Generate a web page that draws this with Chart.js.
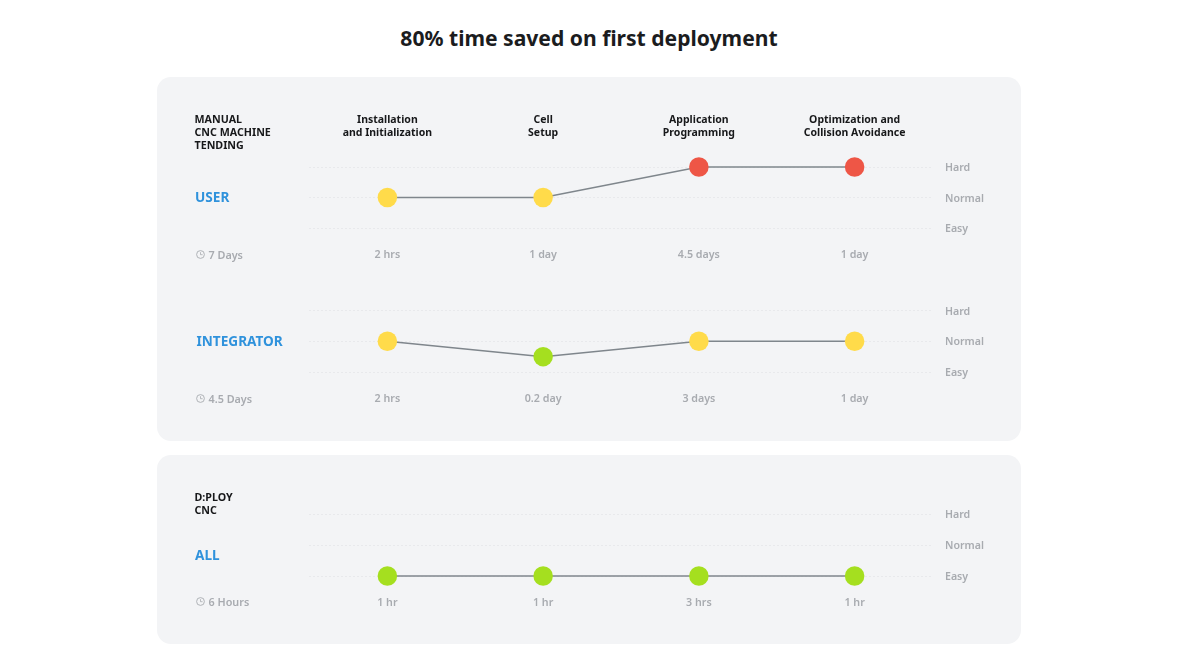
<!DOCTYPE html>
<html>
<head>
<meta charset="utf-8">
<script src="https://cdn.jsdelivr.net/npm/chart.js@4/dist/chart.umd.min.js"></script>
<style>
  html, body { margin: 0; padding: 0; background: #fff; }
  body { position: relative; width: 1178px; height: 663px; overflow: hidden; font-family: "Noto Sans", sans-serif; }
  h1 { position: absolute; left: 0; width: 1178px; top: 21.5px; margin: 0; text-align: center; font-size: 21.1px; line-height: 32px; font-weight: 700; color: #1b1c1e; }
  .panel { position: absolute; left: 157px; width: 864px; background: #f3f4f6; border-radius: 14px; }
  canvas { position: absolute; left: 157px; }
  .head { position: absolute; left: 194.5px; font-size: 10.7px; line-height: 13.3px; font-weight: 700; color: #17181a; white-space: pre; }
  .role { position: absolute; font-size: 13.6px; line-height: 18px; font-weight: 700; color: #2f92dc; }
  .total { position: absolute; left: 196px; font-size: 10.8px; line-height: 14px; font-weight: 600; color: #a8abb0; display: flex; align-items: center; gap: 3.5px; }
</style>
</head>
<body>
<h1 id="title"></h1>
<div class="panel" style="top:77px;height:364px"></div>
<div class="panel" style="top:455px;height:189px"></div>
<canvas id="userChart"></canvas>
<canvas id="integratorChart"></canvas>
<canvas id="allChart"></canvas>
<script>
const chartTitle = '80% time saved on first deployment';
const stepTitles = [
  ['Installation', 'and Initialization'],
  ['Cell', 'Setup'],
  ['Application', 'Programming'],
  ['Optimization and', 'Collision Avoidance']
];
const levels = ['Easy', 'Normal', 'Hard'];

const userLevels = [1, 1, 2, 2];
const userTimes = ['2 hrs', '1 day', '4.5 days', '1 day'];
const integratorLevels = [1, 0.5, 1, 1];
const integratorTimes = ['2 hrs', '0.2 day', '3 days', '1 day'];
const allLevels = [0, 0, 0, 0];
const allTimes = ['1 hr', '1 hr', '3 hrs', '1 hr'];

const manualHead = 'MANUAL\nCNC MACHINE\nTENDING';
const dployHead = 'D:PLOY\nCNC';

const GREY = '#a8abb0';
const FONT = '"Noto Sans", sans-serif';

function dotColor(v) {
  if (v >= 2) return '#ee5646';
  if (v >= 1) return '#ffdb4a';
  return '#a5df1f';
}

function makeChart(id, values, times, canvasTop, topSpace, titles) {
  const canvas = document.getElementById(id);
  canvas.style.top = canvasTop + 'px';
  const scales = {
    x: {
      type: 'category',
      labels: times,
      offset: true,
      position: 'bottom',
      afterFit: s => { s.height = 42; },
      grid: { display: false, drawTicks: false },
      border: { display: false },
      ticks: { color: GREY, font: { family: FONT, size: 10.7, weight: 600 }, padding: 20.5, maxRotation: 0, autoSkip: false }
    },
    y: {
      type: 'linear',
      position: 'right',
      min: 0,
      max: 2,
      afterFit: s => { s.width = 88.5; },
      grid: { color: '#dcdee2', lineWidth: 1, drawTicks: false },
      border: { display: false, dash: [1, 3] },
      ticks: {
        stepSize: 1,
        padding: 12.5,
        labelOffset: 1,
        color: GREY,
        font: { family: FONT, size: 10.6, weight: 600 },
        callback: v => levels[v]
      }
    }
  };
  if (titles) {
    scales.xTop = {
      type: 'category',
      labels: titles,
      offset: true,
      position: 'top',
      afterFit: s => { s.height = topSpace; },
      grid: { display: false, drawTicks: false },
      border: { display: false },
      ticks: { color: '#17181a', font: { family: FONT, size: 10.5, weight: 700, lineHeight: 1.27 }, padding: 27, maxRotation: 0, autoSkip: false }
    };
  }
  return new Chart(canvas, {
    type: 'line',
    data: {
      labels: times,
      datasets: [{
        data: values,
        borderColor: '#7f868c',
        borderWidth: 1.5,
        tension: 0,
        fill: false,
        clip: false,
        pointRadius: 9.75,
        pointBorderWidth: 0,
        pointBackgroundColor: values.map(dotColor)
      }]
    },
    options: {
      responsive: false,
      animation: false,
      events: [],
      layout: { padding: { left: 152.5, right: 0, top: titles ? 0 : topSpace, bottom: 0 } },
      plugins: { legend: { display: false }, tooltip: { enabled: false } },
      scales: scales
    }
  });
}

function addText(cls, text, left, top) {
  const el = document.createElement('div');
  el.className = cls;
  el.textContent = text;
  el.style.top = top + 'px';
  if (left) el.style.left = left + 'px';
  document.body.appendChild(el);
  return el;
}

function addTotal(text, top) {
  const el = addText('total', '', 0, top);
  el.innerHTML = '<svg width="9" height="9" viewBox="0 0 9 9"><circle cx="4.5" cy="4.5" r="3.9" fill="none" stroke="#a8abb0" stroke-width="0.9"/><path d="M4.5 2.2V4.7H6.6" fill="none" stroke="#a8abb0" stroke-width="0.8"/></svg>';
  el.appendChild(document.createTextNode(text));
}

document.getElementById('title').textContent = chartTitle;

[['userChart', 170], ['integratorChart', 134], ['allChart', 128]].forEach(c => {
  const el = document.getElementById(c[0]);
  el.width = 864;
  el.height = c[1];
  el.style.width = '864px';
  el.style.height = c[1] + 'px';
});

makeChart('userChart', userLevels, userTimes, 100, 67, stepTitles);
makeChart('integratorChart', integratorLevels, integratorTimes, 280, 30.5, null);
makeChart('allChart', allLevels, allTimes, 489.5, 24, null);

addText('head', manualHead, 0, 112.5);
addText('head', dployHead, 0, 490.5);
addText('role', 'USER', 195, 187.5);
addText('role', 'INTEGRATOR', 196.5, 331.5);
addText('role', 'ALL', 195, 545.5);
addTotal('7 Days', 247.5);
addTotal('4.5 Days', 391.5);
addTotal('6 Hours', 594.5);
</script>
</body>
</html>
